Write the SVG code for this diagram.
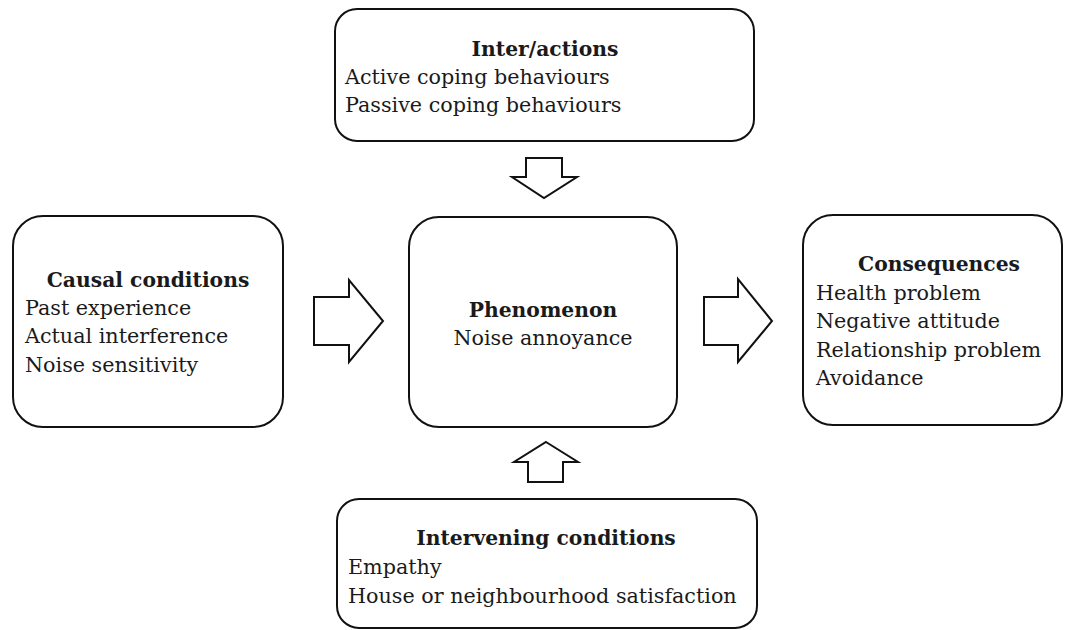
<svg xmlns="http://www.w3.org/2000/svg" width="1065" height="630" viewBox="0 0 1065 630">
<style>
.box{fill:#fff;stroke:#111;stroke-width:2}
.arrow{fill:#fff;stroke:#111;stroke-width:2;stroke-linejoin:miter}
text{font-family:"DejaVu Serif","Liberation Serif",serif;font-size:20.7px;fill:#1a1a1a}
.t{font-weight:bold;text-anchor:middle;font-size:20.3px}
</style>
<rect width="1065" height="630" fill="#fff"/>
<g id="interactions">
<rect class="box" x="335" y="9" width="419" height="132" rx="22"/>
<text class="t" x="545" y="56">Inter/actions</text>
<text x="345" y="84">Active coping behaviours</text>
<text x="345" y="112">Passive coping behaviours</text>
</g>
<g id="causal">
<rect class="box" x="13" y="216" width="270" height="211" rx="30"/>
<text class="t" x="148" y="287">Causal conditions</text>
<text x="25" y="315">Past experience</text>
<text x="25" y="343">Actual interference</text>
<text x="25" y="372">Noise sensitivity</text>
</g>
<g id="phenomenon">
<rect class="box" x="409" y="217" width="268" height="210" rx="30"/>
<text class="t" x="543" y="317">Phenomenon</text>
<text x="543" y="345" text-anchor="middle">Noise annoyance</text>
</g>
<g id="consequences">
<rect class="box" x="803" y="215" width="259" height="210" rx="30"/>
<text class="t" x="939" y="271">Consequences</text>
<text x="816" y="300">Health problem</text>
<text x="816" y="328">Negative attitude</text>
<text x="816" y="357">Relationship problem</text>
<text x="816" y="385">Avoidance</text>
</g>
<g id="intervening">
<rect class="box" x="337" y="499" width="420" height="129" rx="22"/>
<text class="t" x="546" y="545">Intervening conditions</text>
<text x="348" y="574">Empathy</text>
<text x="348" y="603">House or neighbourhood satisfaction</text>
</g>
<g id="connectors">
<polygon class="arrow" points="526,158 562,158 562,177 577,177 544,198 512,177 526,177"/>
<polygon class="arrow" points="314,297 349,297 349,280 383,321 349,362 349,345 314,345"/>
<polygon class="arrow" points="704,297 738,297 738,279 772,321 738,362 738,345 704,345"/>
<polygon class="arrow" points="546,442 578,462 563,462 563,482 528,482 528,462 514,462"/>
</g>
</svg>
